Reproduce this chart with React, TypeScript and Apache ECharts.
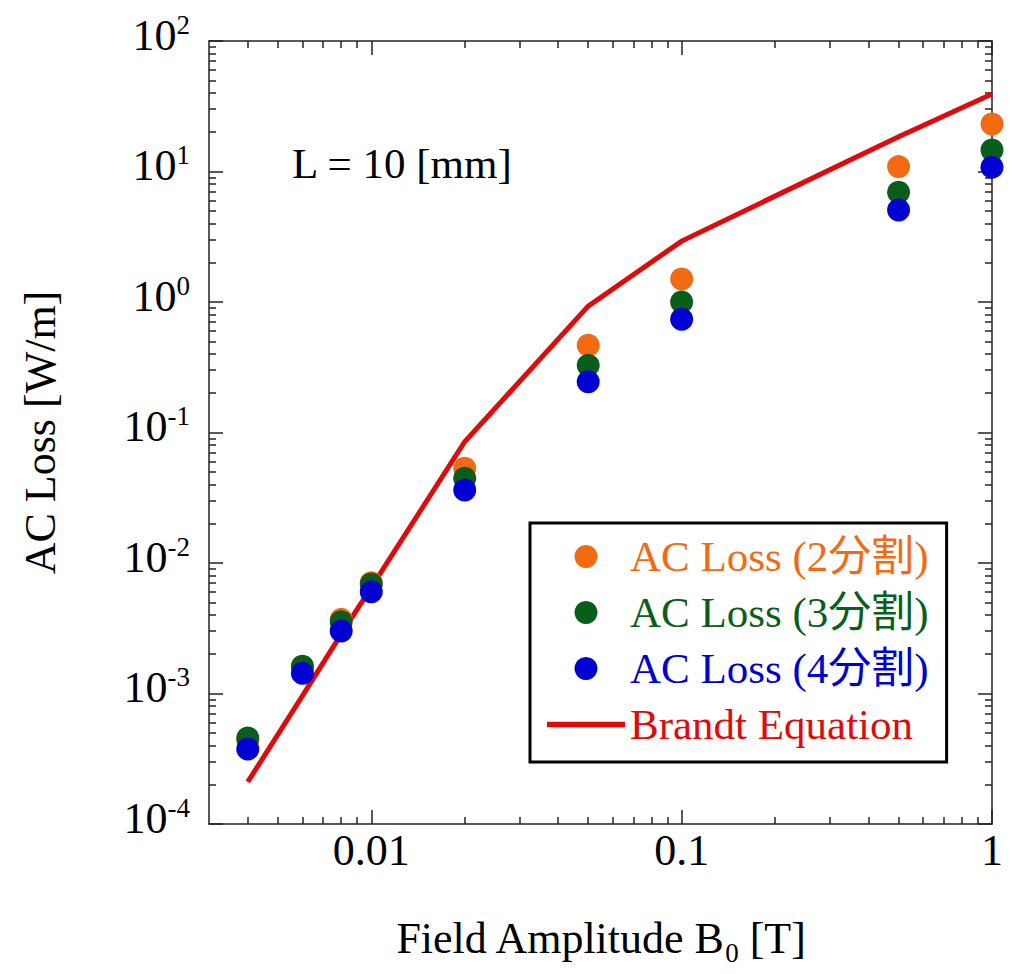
import React, { useEffect, useRef } from "react";
import * as echarts from "echarts";

// ---- data ----
const fieldAmplitude = [0.004, 0.006, 0.008, 0.01, 0.02, 0.05, 0.1, 0.5, 1];
const loss2 = [4.4e-4, 1.6e-3, 3.7e-3, 7.06e-3, 0.0532, 0.466, 1.5, 10.9, 23.1];
const loss3 = [4.56e-4, 1.62e-3, 3.55e-3, 6.9e-3, 0.0446, 0.327, 1.0, 6.93, 14.6];
const loss4 = [3.76e-4, 1.43e-3, 3.01e-3, 6.03e-3, 0.0362, 0.245, 0.737, 5.07, 10.8];
const brandt = [2.1e-4, 9.6e-4, 2.85e-3, 6.5e-3, 0.085, 0.93, 2.93, 18.5, 39.2];

const seriesNames = ["AC Loss (2分割)", "AC Loss (3分割)", "AC Loss (4分割)", "Brandt Equation"];
const seriesColors = ["#F26A12", "#0A5E1C", "#0000D2", "#E00A0A"];

const xMajorTicks = [0.01, 0.1, 1];
const xMinorTicks = [
  0.004, 0.005, 0.006, 0.007, 0.008, 0.009,
  0.02, 0.03, 0.04, 0.05, 0.06, 0.07, 0.08, 0.09,
  0.2, 0.3, 0.4, 0.5, 0.6, 0.7, 0.8, 0.9,
];
const yMajorTicks = [1e-4, 1e-3, 1e-2, 1e-1, 1, 10, 100];
const yMinorMultipliers = [2, 3, 4, 5, 6, 7, 8, 9];

const annotation = "L = 10 [mm]";
const xTitle = "Field Amplitude B{sub|0} [T]";
const yTitle = "AC Loss [W/m]";

const FONT = "'Liberation Serif', 'Times New Roman', 'Noto Sans CJK JP', serif";
const AXIS_COLOR = "#222";

export default function App() {
  const ref = useRef<HTMLDivElement>(null);

  useEffect(() => {
    document.body.style.margin = "0";
    if (!ref.current) return;
    const chart = echarts.init(ref.current, undefined, { renderer: "svg" });

    const yMinorTicks: number[] = [];
    for (let i = 0; i < yMajorTicks.length - 1; i++) {
      for (const m of yMinorMultipliers) yMinorTicks.push(+(yMajorTicks[i] * m).toPrecision(6));
    }

    const lineStyle = { color: AXIS_COLOR, width: 1.5 };
    const xBase: any = {
      type: "log",
      logBase: 10,
      min: 0.003,
      max: 1,
      splitLine: { show: false },
      axisLine: { show: true, lineStyle },
      axisLabel: { show: false },
    };
    const yBase: any = {
      type: "log",
      logBase: 10,
      min: 1e-4,
      max: 100,
      splitLine: { show: false },
      axisLine: { show: true, lineStyle },
      axisLabel: { show: false },
    };
    const majorTick = (vals: number[]) => ({ show: true, inside: true, length: 14, lineStyle, customValues: vals });
    const minorTick = (vals: number[]) => ({ show: true, inside: true, length: 7, lineStyle, customValues: vals });

    const fmtNum = (v: number) => String(+Number(v).toPrecision(6));

    const option: any = {
      animation: false,
      backgroundColor: "#fff",
      grid: { left: 209, top: 41, right: 20, bottom: 150, outerBoundsMode: "none" },
      xAxis: [
        {
          ...xBase,
          position: "bottom",
          axisTick: majorTick(xMajorTicks),
          axisLabel: {
            show: true,
            customValues: xMajorTicks,
            formatter: fmtNum,
            fontFamily: FONT,
            fontSize: 44,
            color: "#000",
            margin: 4,
          },
          name: xTitle,
          nameLocation: "middle",
          nameGap: 86,
          nameMoveOverlap: false,
          nameTextStyle: {
            fontFamily: FONT,
            fontSize: 44,
            lineHeight: 56,
            color: "#000",
            rich: {
              sub: { fontFamily: FONT, fontSize: 27, verticalAlign: "bottom", color: "#000" },
            },
          },
        },
        { ...xBase, position: "top", axisTick: majorTick(xMajorTicks) },
        { ...xBase, position: "bottom", axisLine: { show: false }, axisTick: minorTick(xMinorTicks) },
        { ...xBase, position: "top", axisLine: { show: false }, axisTick: minorTick(xMinorTicks) },
      ],
      yAxis: [
        {
          ...yBase,
          position: "left",
          axisTick: majorTick(yMajorTicks),
          axisLabel: {
            show: true,
            customValues: yMajorTicks,
            margin: 19,
            padding: [0, 0, 12, 0],
            formatter: (v: number) => `{b|10}{s|${Math.round(Math.log10(v))}}`,
            rich: {
              b: { fontFamily: FONT, fontSize: 44, lineHeight: 48, color: "#000" },
              s: { fontFamily: FONT, fontSize: 27, lineHeight: 20, verticalAlign: "top", color: "#000" },
            },
          },
          name: yTitle,
          nameLocation: "middle",
          nameGap: 145,
          nameMoveOverlap: false,
          nameTextStyle: { fontFamily: FONT, fontSize: 44, lineHeight: 48, color: "#000" },
        },
        { ...yBase, position: "right", axisTick: majorTick(yMajorTicks) },
        { ...yBase, position: "left", axisLine: { show: false }, axisTick: minorTick(yMinorTicks) },
        { ...yBase, position: "right", axisLine: { show: false }, axisTick: minorTick(yMinorTicks) },
      ],
      legend: {
        orient: "vertical",
        left: 530,
        top: 523,
        padding: [12, 18, 16, 17],
        itemWidth: 78,
        itemHeight: 23,
        itemGap: 13,
        borderColor: "#000",
        borderWidth: 3,
        backgroundColor: "#fff",
        selectedMode: false,
        textStyle: { fontFamily: FONT, fontSize: 43, lineHeight: 43 },
        data: seriesNames.map((name, i) => ({
          name,
          icon: i < 3 ? "circle" : "path://M0,0H78V5.5H0Z",
          itemStyle: { color: seriesColors[i], borderWidth: 0 },
          textStyle: { color: seriesColors[i], fontFamily: FONT, fontSize: 43, lineHeight: 43 },
        })),
      },
      graphic: [
        {
          type: "text",
          left: 292,
          top: 142,
          style: { text: annotation, fontFamily: FONT, fontSize: 43, fill: "#000" },
        },
      ],
      series: [
        {
          name: seriesNames[3],
          type: "line",
          xAxisIndex: 0,
          yAxisIndex: 0,
          data: fieldAmplitude.map((x, i) => [x, brandt[i]]),
          showSymbol: false,
          symbol: "none",
          clip: false,
          lineStyle: { color: seriesColors[3], width: 5, join: "miter", cap: "butt" },
          itemStyle: { color: seriesColors[3] },
          z: 2,
        },
        ...[loss2, loss3, loss4].map((vals, i) => ({
          name: seriesNames[i],
          type: "scatter",
          xAxisIndex: 0,
          yAxisIndex: 0,
          symbol: "circle",
          symbolSize: 23,
          clip: false,
          data: fieldAmplitude.map((x, j) => [x, vals[j]]),
          itemStyle: { color: seriesColors[i], opacity: 1 },
          z: 3 + i,
        })),
      ],
    };

    chart.setOption(option);
    return () => chart.dispose();
  }, []);

  return <div ref={ref} style={{ width: 1012, height: 974 }} />;
}
